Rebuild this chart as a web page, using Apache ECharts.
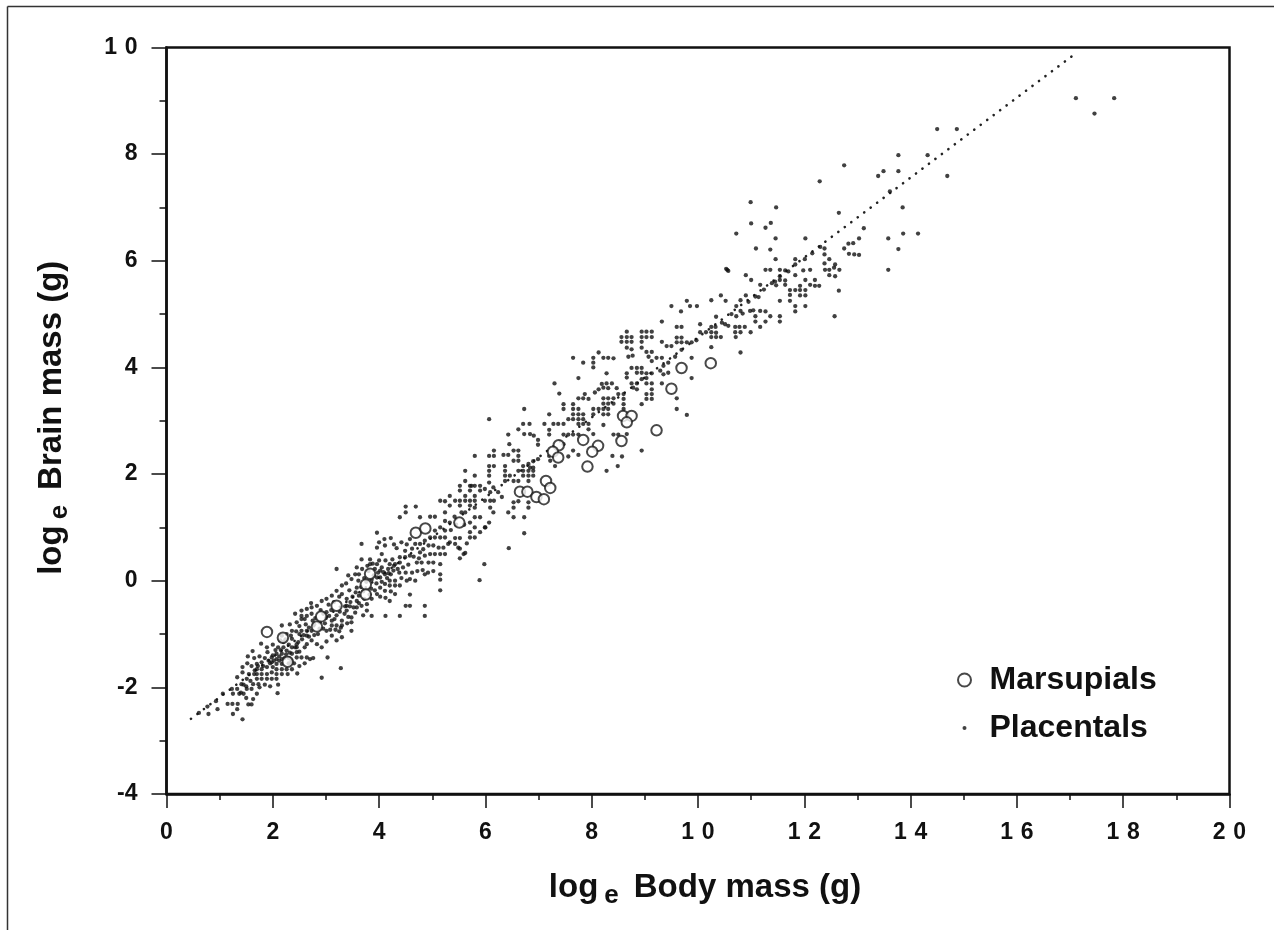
<!DOCTYPE html>
<html>
<head>
<meta charset="utf-8">
<title>Brain mass vs body mass</title>
<script src="https://cdn.jsdelivr.net/npm/echarts@6/dist/echarts.min.js"></script>
<style>
html,body{margin:0;padding:0;background:#fff}
#chart{width:1274px;height:930px}
</style>
</head>
<body>
<div id="chart"></div>
<script>
// log_e units
var xTicks = [0,2,4,6,8,10,12,14,16,18,20];
var yTicks = [-4,-2,0,2,4,6,8,10];

var marsupials = [
[1.89,-0.96],[2.28,-1.52],[2.19,-1.07],[2.83,-0.86],[2.91,-0.67],[3.2,-0.47],[3.75,-0.07],[3.75,-0.26],[3.83,0.13],
[4.69,0.9],[4.87,0.98],[5.51,1.09],[7.14,1.87],[7.22,1.74],[6.65,1.67],[6.79,1.67],[6.96,1.57],[7.1,1.53],
[7.38,2.54],[7.27,2.42],[7.37,2.31],[7.84,2.64],[8.12,2.53],[8.01,2.42],[7.92,2.14],[8.56,2.62],[8.59,3.09],
[8.75,3.09],[8.66,2.97],[9.22,2.82],[9.5,3.6],[9.69,3.99],[10.24,4.08]
];

var placentalsLarge = [
[17.11,9.05],[17.83,9.05],[17.46,8.76],[14.5,8.47],[14.87,8.47],[13.77,7.98],[14.32,7.98],[14.69,7.59],[12.75,7.79],
[12.29,7.49],[13.49,7.68],[13.39,7.59],[13.77,7.68],[13.61,7.3],[13.85,7.0],[12.65,6.9],[10.99,7.1],[11.47,7.0],
[11,6.7],[11.37,6.71],[11.27,6.62],[10.72,6.51],[11.46,6.42],[12.02,6.42],[11.09,6.23],[11.36,6.21],[13.12,6.61],
[13.58,6.42],[13.86,6.51],[14.14,6.51],[13.77,6.22],[13.58,5.83],[13.03,6.42],[12.92,6.33],[12.83,6.32],[12.75,6.23],
[12.84,6.13],[12.94,6.12],[13.03,6.11],[12.38,6.23],[12.38,6.12],[12.3,6.26],[12.15,6.14],[12.01,6.03],[11.83,6.03],
[11.83,5.93],[11.46,6.03],[12.47,6.03],[12.38,5.95],[12.58,5.93],[12.39,5.83],[12.47,5.83],[12.56,5.87],[12.66,5.83],
[12.47,5.73],[12.58,5.71],[12.65,5.44],[12.57,4.96],[10.55,5.83],[10.53,5.85],[10.57,5.81],[11.27,5.83],[11.36,5.83],[11.54,5.83],
[11.64,5.82],[11.7,5.8],[11.98,5.82],[12.11,5.83],[11.83,5.73],[10.9,5.73],[11,5.64],[11.54,5.71],[11.54,5.64],
[11.45,5.61],[11.39,5.58],[11.64,5.63],[11.64,5.55],[11.47,5.54],[12.02,5.64],[12.2,5.64],[12.11,5.55],[12.2,5.53],
[12.28,5.53],[11.17,5.55],[11.24,5.46],[11.73,5.45],[11.83,5.45],[11.92,5.53],[11.92,5.45],[12.02,5.45],[11.73,5.36],
[11.92,5.35],[12.02,5.35],[11.73,5.25],[11.54,5.25],[11.83,5.15],[12.02,5.15],[11.83,5.05],[10.43,5.35],[10.52,5.25],
[10.25,5.26],[10.9,5.35],[10.8,5.26],[10.95,5.23],[11.08,5.33],[11.14,5.32],[10.72,5.15],[10.8,5.06],[10.84,5.01],
[10.63,5.0],[10.72,4.96],[10.98,5.06],[11.04,5.07],[11.17,5.06],[11.27,5.05],[11.08,4.96],[11.08,4.86],[11.27,4.86],
[11.36,4.96],[11.54,4.96],[11.54,4.86],[11.17,4.76],[10.99,4.66],[10.34,4.95],[10.45,4.84],[10.51,4.81],[10.57,4.78],
[10.78,4.76],[10.88,4.76],[10.7,4.76],[10.7,4.66],[10.8,4.66],[10.71,4.57],[10.8,4.28],[10.04,4.81],[10.04,4.66],
[10.25,4.76],[10.33,4.76],[10.15,4.66],[10.25,4.66],[10.34,4.65],[10.25,4.57],[10.34,4.57],[10.43,4.57],[10.25,4.38]
];

var placentalsMid = [
[9.79,5.25],[9.5,5.15],[9.68,5.05],[9.85,5.15],[9.98,5.15],[9.32,4.86],[9.6,4.76],[9.69,4.76],[8.66,4.67],[8.66,4.57],
[8.56,4.57],[8.75,4.57],[8.56,4.48],[8.66,4.48],[8.75,4.48],[8.66,4.37],[8.75,4.34],[8.69,4.2],[8.77,4.22],[8.94,4.67],
[9.03,4.67],[9.13,4.67],[8.94,4.57],[9.13,4.57],[9.03,4.57],[8.94,4.48],[8.94,4.37],[9.03,4.29],[9.13,4.29],[9.07,4.2],
[9.32,4.48],[9.41,4.4],[9.5,4.4],[9.6,4.56],[9.69,4.56],[9.6,4.47],[9.69,4.47],[9.79,4.47],[9.88,4.47],[9.97,4.51],
[9.69,4.33],[9.32,4.18],[9.22,4.18],[9.13,4.12],[9.57,4.2],[9.88,4.18],[9.44,4.09],[9.35,4.03],[9.29,3.94],[9.35,3.87],
[9.44,3.9],[9.88,3.8],[7.65,4.18],[7.84,4.09],[8.03,4.18],[8.03,4.09],[8.03,4.0],[8.13,4.28],[8.22,4.18],[8.31,4.18],
[8.41,4.17],[8.28,3.89],[7.75,3.8],[8.75,3.99],[8.85,3.99],[8.94,3.99],[8.85,3.9],[8.94,3.9],[9.03,3.89],[8.66,3.89],
[9.13,3.89],[8.66,3.81],[9.03,3.8],[8.94,3.78],[8.75,3.7],[8.85,3.7],[9.03,3.7],[9.13,3.7],[8.78,3.62],[8.85,3.59],
[9.13,3.59],[9.32,3.7],[9.03,3.5],[9.13,3.5],[9.03,3.41],[9.13,3.41],[8.94,3.31],[9.6,3.42],[9.6,3.22],[9.79,3.11],
[8.19,3.69],[8.28,3.7],[8.38,3.7],[8.22,3.62],[8.31,3.61],[8.13,3.59],[8.06,3.53],[7.87,3.5],[8.47,3.61],[8.6,3.5],
[8.5,3.5],[7.75,3.42],[7.84,3.42],[7.94,3.41],[8.22,3.42],[8.31,3.42],[8.41,3.42],[8.6,3.41],[8.22,3.32],[8.31,3.32],
[8.41,3.32],[8.03,3.12],[8.13,3.22],[8.22,3.22],[8.31,3.22],[8.22,3.12],[8.31,3.12],[8.03,3.22],[8.6,3.31],[8.6,3.22],
[7.3,3.7],[7.39,3.51],[6.73,3.22],[7.2,3.12],[7.47,3.31],[7.47,3.22],[7.65,3.31],[7.65,3.22],[7.75,3.22],[7.65,3.12],
[7.75,3.12],[7.84,3.12],[7.65,3.03],[7.75,3.03],[7.84,3.03],[7.75,2.94],[7.84,2.94],[7.94,2.94],[7.94,2.84],[7.56,3.03],
[7.47,2.94],[7.37,2.94],[7.28,2.94],[7.11,2.94],[7.2,2.83],[7.2,2.74],[6.62,2.84],[6.71,2.94],[6.83,2.94],[6.07,3.03],
[6.43,2.74],[6.45,2.56],[6.73,2.75],[6.84,2.75],[6.91,2.72],[6.99,2.64],[6.99,2.55],[7.47,2.74],[7.56,2.74],[7.65,2.74],
[7.75,2.74],[8.03,2.75],[8.22,2.92],[8.41,2.74],[8.5,2.74],[8.66,2.75],[7.65,2.44],[7.75,2.36],[7.56,2.33],[7.47,2.56],
[8.94,2.44],[8.39,2.34],[8.57,2.33],[8.49,2.15],[8.28,2.06],[6.99,2.28],[6.9,2.24],[6.81,2.19],[6.71,2.15],[6.84,2.12],
[6.9,2.12],[7.2,2.34],[7.22,2.25],[7.31,2.15],[6.62,2.44],[6.53,2.44],[6.43,2.36],[6.62,2.34],[6.34,2.36],[6.16,2.44],
[6.16,2.34],[6.07,2.34],[5.8,2.34],[6.16,2.15],[6.07,2.15],[6.07,2.06],[6.07,1.97],[6.37,2.15],[6.37,2.06],[6.53,2.25],
[6.62,2.25],[6.62,2.06],[6.71,2.06],[6.81,2.06],[6.9,2.06],[6.37,1.97],[6.46,1.97],[6.37,1.87],[6.53,1.87],[6.62,1.87],
[6.71,1.97],[6.81,1.97],[6.9,1.97],[6.81,1.87],[5.62,2.06],[5.8,1.97],[5.62,1.87],[5.52,1.78],[5.71,1.78],[5.8,1.78],
[5.9,1.78],[6.07,1.84],[5.99,1.72],[6.15,1.75],[6.24,1.66],[6.31,1.57],[6.09,1.66],[5.52,1.69],[5.62,1.59],[5.71,1.69],
[5.8,1.59],[5.9,1.69],[5.33,1.59],[5.43,1.5],[5.52,1.5],[5.62,1.5],[5.71,1.5],[5.8,1.5],[5.99,1.5],[6.09,1.5],[6.16,1.5],
[5.33,1.41],[5.52,1.41],[5.71,1.41],[5.8,1.37],[6.09,1.37],[6.53,1.47],[6.62,1.49],[6.53,1.37],[6.81,1.37],[6.81,1.47],
[6.15,1.28],[6.43,1.28],[6.53,1.19],[6.73,1.19],[5.62,1.28],[5.8,1.19],[5.9,1.19],[5.71,1.09],[5.8,1.0],[6.07,1.09],
[5.99,1.0],[5.9,0.91],[5.71,0.91],[5.8,0.81],[6.73,0.89],[5.33,1.09],[5.33,0.72],[5.43,0.8],[5.52,0.8],[5.43,0.69],
[5.52,0.6],[5.62,0.52],[5.52,0.42],[6.44,0.61],[5.98,0.31],[5.49,0.62],[5.59,0.5],[5.71,0.81],[6.0,1.0],[5.74,1.78],[5.89,0.01],
[5.35,0.95],[5.45,1.05],[5.6,1.05],[5.65,0.7],[5.42,1.2],[5.55,1.28]
];

var placentalsSmall = [
[0.61,-2.48],[0.77,-2.36],[0.79,-2.5],[0.93,-2.26],[0.96,-2.41],[1.06,-2.12],[1.15,-2.31],[1.24,-2.31],[1.34,-2.31],
[1.33,-2.41],[1.25,-2.5],[1.43,-2.6],[1.23,-2.03],[1.33,-1.81],[1.43,-1.62],[1.43,-1.72],[1.53,-1.42],[1.62,-1.32],
[1.51,-1.84],[1.41,-1.94],[1.33,-2.03],[1.25,-2.12],[1.37,-2.12],[1.45,-2.12],[1.51,-2.03],[1.6,-2.03],[1.7,-2.12],
[1.63,-2.22],[1.54,-2.32],[1.6,-2.32],[2.09,-2.11],[2.46,-1.74],[2.92,-1.82],[3.28,-1.64],[2.76,-1.45],[3.03,-1.44],
[1.7,-1.56],[1.79,-1.53],[1.7,-1.66],[1.79,-1.66],[1.89,-1.62],[1.7,-1.75],[1.79,-1.75],[1.89,-1.75],[1.98,-1.72],
[2.07,-1.75],[2.17,-1.75],[1.7,-1.84],[1.79,-1.84],[1.89,-1.84],[1.98,-1.84],[2.07,-1.84],[1.63,-1.94],[1.73,-1.94],
[1.89,-1.25],[1.9,-1.34],[1.98,-1.44],[2.07,-1.37],[2.07,-1.47],[2.17,-1.37],[2.17,-1.47],[1.98,-1.53],[2.07,-1.56],
[2.17,-1.56],[2.26,-1.31],[2.36,-1.25],[2.36,-1.37],[2.45,-1.34],[2.45,-1.25],[2.26,-1.66],[2.36,-1.66],[2.07,-1.66],
[2.17,-1.66],[2.45,-1.44],[2.54,-1.44],[2.64,-1.44],[2.7,-1.47],[2.17,-0.84],[2.17,-1.03],[2.26,-1.0],[2.36,-1.09],
[2.36,-0.94],[2.45,-0.78],[2.45,-1.19],[2.54,-0.72],[2.54,-0.94],[2.64,-0.53],[2.73,-0.5],[2.83,-0.47],[2.54,-0.56],
[2.54,-0.66],[2.64,-0.66],[2.73,-0.62],[2.64,-0.94],[2.73,-0.94],[2.64,-1.03],[2.73,-1.12],[2.64,-1.19],[2.83,-1.19],
[2.92,-1.25],[3.01,-1.14],[3.01,-0.94],[3.11,-1.03],[3.2,-1.12],[3.3,-1.06],[3.11,-0.84],[3.2,-0.84],[3.3,-0.84],
[3.11,-0.75],[3.3,-0.75],[3.11,-0.28],[3.2,0.22],[3.3,-0.09],[3.2,-0.19],[3.3,-0.25],[2.92,-0.38],[3.01,-0.34],
[3.01,-0.59],[3.39,-0.34],[3.39,-0.47],[3.39,-0.56],[3.48,-0.69],[3.48,-0.78],[3.48,-0.94],[3.58,-0.38],[3.58,-0.5],
[3.67,-0.47],[3.48,0.03],[3.55,0.12],[3.61,0.0],[3.58,-0.13],[3.67,0.69],[3.67,0.4],[3.83,0.4],[3.96,0.9],[3.96,0.62],
[3.83,0.31],[3.96,0.31],[3.77,-0.44],[3.86,-0.34],[3.96,-0.25],[4.02,-0.13],[4.11,-0.19],[4.11,-0.06],[3.77,-0.56],
[3.86,-0.66],[4.12,-0.66],[4.39,-0.66],[4.02,0.06],[4.11,0.12],[4.17,0.22],[4.02,0.19],[4.11,0.66],[4.22,0.8],[4.33,0.61],
[4.39,1.19],[4.5,1.39],[4.5,1.28],[4.69,1.39],[4.2,0.31],[4.3,0.31],[4.27,0.19],[4.39,0.34],[4.49,0.44],[4.58,0.47],
[4.39,0.44],[4.49,0.56],[4.2,0.0],[4.3,0.0],[4.2,-0.09],[4.3,-0.09],[4.39,-0.09],[4.3,-0.25],[4.2,-0.38],[4.58,-0.26],
[4.5,-0.47],[4.58,-0.47],[4.86,-0.47],[4.86,-0.66],[4.58,0.03],[4.68,0.0],[4.86,0.12],[5.15,0.12],[5.15,0.02],[5.15,-0.18],
[4.77,1.19],[4.96,1.2],[5.05,1.2],[5.24,1.28],[5.15,1.5],[5.24,1.49],[5.24,1.12],[4.58,0.78],[4.68,0.69],[4.77,0.69],
[4.86,0.75],[4.96,0.81],[5.05,0.81],[5.15,0.81],[5.24,0.81],[4.93,0.66],[5.02,0.66],[5.12,0.62],[5.21,0.62],[5.3,0.69],
[4.77,0.53],[4.86,0.47],[4.96,0.5],[5.05,0.5],[5.15,0.5],[5.24,0.5],[4.71,0.34],[4.8,0.34],[4.93,0.34],[5.02,0.34],
[5.15,0.31],[4.83,0.59],[5.15,1.0],[5.05,0.94],[5.24,0.94],
[2.0,-1.2],[2.1,-1.25],[2.2,-1.25],[2.3,-1.2],[2.2,-1.15],[2.05,-1.3],[2.15,-1.3],[2.25,-1.38],[2.3,-1.45],[2.12,-1.42],
[2.0,-1.4],[1.95,-1.55],[2.3,-1.55],[2.55,-1.1],[2.6,-1.25],[2.5,-1.33],[2.35,-1.5],[1.85,-1.45],[1.75,-1.42],[1.65,-1.45],
[2.0,-1.62],[2.28,-1.75],[2.5,-0.85],[2.62,-0.82],[2.8,-0.7],[2.9,-0.55],[3.0,-0.7],[3.1,-0.55],[3.2,-0.65],[3.35,-0.62],
[3.45,-0.48],[3.5,-0.3],[3.62,-0.28],[3.7,-0.2],[3.85,-0.15],[3.95,-0.05],[3.9,0.1],[3.98,0.15],[4.05,0.25],[4.15,0.05],
[4.22,0.12],[4.05,-0.02],[3.92,0.22],[4.0,0.38],[4.12,0.38],[4.25,0.4],[4.05,0.5],[3.8,0.18],[3.72,0.05],[3.62,0.12],
[4.35,0.22],[4.45,0.25],[4.5,0.15],[4.42,0.05],[4.55,0.3],[4.65,0.45],[4.75,0.42],[2.95,-0.9],[2.85,-1.0],[2.75,-0.75],
[3.25,-0.95],[3.4,-0.8],[3.55,-0.6],[3.7,-0.65],[3.15,-0.4],[3.25,-0.3],[3.05,-0.45],[1.45,-1.95],[1.55,-1.75],[1.5,-2.2],
[1.65,-1.75],[1.4,-2.1],[1.75,-2.0],[1.85,-1.95],[1.95,-1.98],[2.1,-1.95],
[1.72,-1.6],[1.82,-1.6],[1.92,-1.5],[2.02,-1.5],[2.12,-1.5],[2.22,-1.45],[2.32,-1.35],[2.42,-1.25],[2.48,-1.15],[2.58,-1.02],
[2.68,-0.88],[2.78,-0.82],[2.88,-0.78],[2.98,-0.8],[3.06,-0.66],[3.16,-0.72],[3.26,-0.58],[3.36,-0.48],[3.46,-0.4],[3.56,-0.22],
[3.66,-0.12],[3.76,-0.02],[3.86,0.02],[3.96,0.06],[4.08,0.16],[4.18,0.14],[4.28,0.28],[4.38,0.15],[2.14,-1.12],[2.24,-1.1],
[2.34,-1.03],[2.44,-0.95],[2.5,-1.0],[2.68,-1.05],[2.78,-1.02],[2.88,-0.9],[3.08,-0.92],[3.18,-0.92],[3.28,-0.88],[3.42,-0.68],
[3.52,-0.5],[3.62,-0.42],[3.72,-0.34],[3.82,-0.26],[3.92,-0.18],[4.02,-0.3],[4.12,-0.32],[4.22,-0.2],[3.88,0.32],[3.78,0.28],
[3.68,0.22],[3.58,0.25],[3.42,0.1],[3.38,-0.05],[3.44,-0.18],[2.95,-0.62],[2.72,-0.42],[2.6,-0.72],[2.42,-0.62],[2.32,-0.82],
[1.52,-1.55],[1.6,-1.6],[1.58,-1.88],[1.66,-1.68],[1.5,-1.98],[1.78,-1.18],[2.4,-1.55],[2.5,-1.6],[2.6,-1.55],[4.1,0.78],
[4.0,0.72],[4.28,0.68],[4.42,0.72],[4.52,0.68],[4.62,0.6],[4.72,0.18],[4.82,0.2],[4.92,0.15],[5.02,0.18],[4.62,0.15],[4.52,0.0]
];

// dotted fit line, end points
var fitLine = [[0.46,-2.59],[17.12,9.9]];

var placentals = placentalsSmall.concat(placentalsMid, placentalsLarge);

var ink = '#111';
var myChart = echarts.init(document.getElementById('chart'));

var nameRich = {
    a: {fontFamily:'Liberation Sans', fontWeight:'bold', fontSize:33, color:ink},
    e: {fontFamily:'Liberation Sans', fontWeight:'bold', fontSize:26, color:ink, padding:[16,15,0,6]}
};
var tickLabel = function(v){
    return String(v).replace(/(\d)(\d)/, '$1\u2004$2');
};

var option = {
    backgroundColor:'#fff',
    animation:false,
    grid:{left:166.5, right:44.5, top:47.5, bottom:136, show:true, borderColor:ink, borderWidth:2.5, containLabel:false},
    legend:{
        left:952, top:659, orient:'vertical', itemWidth:40, itemHeight:13, itemGap:16,
        textStyle:{fontFamily:'Liberation Sans', fontWeight:'bold', fontSize:32, color:ink, lineHeight:30},
        data:[
            {name:'Marsupials', icon:'circle'},
            {name:'Placentals', icon:'path://M0 0L0 0M13 13L13 13M4.5 6.5a2 2 0 1 0 4 0a2 2 0 1 0 -4 0Z'}
        ]
    },
    xAxis:{
        type:'value', min:0, max:20, interval:2, splitLine:{show:false},
        axisLine:{show:true, onZero:false, lineStyle:{color:ink, width:2.5}},
        axisTick:{show:true, length:14, lineStyle:{color:ink, width:1.5}},
        minorTick:{show:true, splitNumber:2, length:6, lineStyle:{color:ink, width:1.5}},
        axisLabel:{margin:27, fontFamily:'Liberation Sans', fontWeight:'bold', fontSize:23, color:ink, formatter:tickLabel, showMinLabel:true, showMaxLabel:true},
        name:'{a|log}{e|e}{a|Body mass (g)}', nameLocation:'middle', nameGap:73,
        nameTextStyle:{rich:nameRich, padding:[0,0,0,14]}
    },
    yAxis:{
        type:'value', min:-4, max:10, interval:2, splitLine:{show:false},
        axisLine:{show:true, onZero:false, lineStyle:{color:ink, width:2.5}},
        axisTick:{show:true, length:15, lineStyle:{color:ink, width:1.5}},
        minorTick:{show:true, splitNumber:2, length:7, lineStyle:{color:ink, width:1.5}},
        axisLabel:{margin:29, fontFamily:'Liberation Sans', fontWeight:'bold', fontSize:23, color:ink, formatter:tickLabel, showMinLabel:true, showMaxLabel:true},
        name:'{a|log}{e|e}{a|Brain mass (g)}', nameLocation:'middle', nameGap:78,
        nameTextStyle:{rich:nameRich, padding:[0,0,16,6]}
    },
    graphic:[
        {type:'line', silent:true, shape:{x1:7.5,y1:6.5,x2:1274,y2:6.5}, style:{stroke:'#333',lineWidth:1.5}},
        {type:'line', silent:true, shape:{x1:7.5,y1:6.5,x2:7.5,y2:930}, style:{stroke:'#333',lineWidth:1.5}}
    ],
    series:[
        {
            name:'fit', type:'line', data:fitLine, symbol:'none', silent:true, z:1,
            lineStyle:{color:'#222', width:2.6, type:[0.1,8], cap:'round'}
        },
        {
            name:'Placentals', type:'scatter', data:placentals, symbol:'circle', symbolSize:4.3, z:2,
            itemStyle:{color:'#111'}
        },
        {
            name:'Marsupials', type:'scatter', data:marsupials, symbol:'circle', symbolSize:10.5, z:3,
            itemStyle:{color:'#fff', borderColor:'#1a1a1a', borderWidth:2}
        }
    ]
};
myChart.setOption(option);
</script>
</body>
</html>
